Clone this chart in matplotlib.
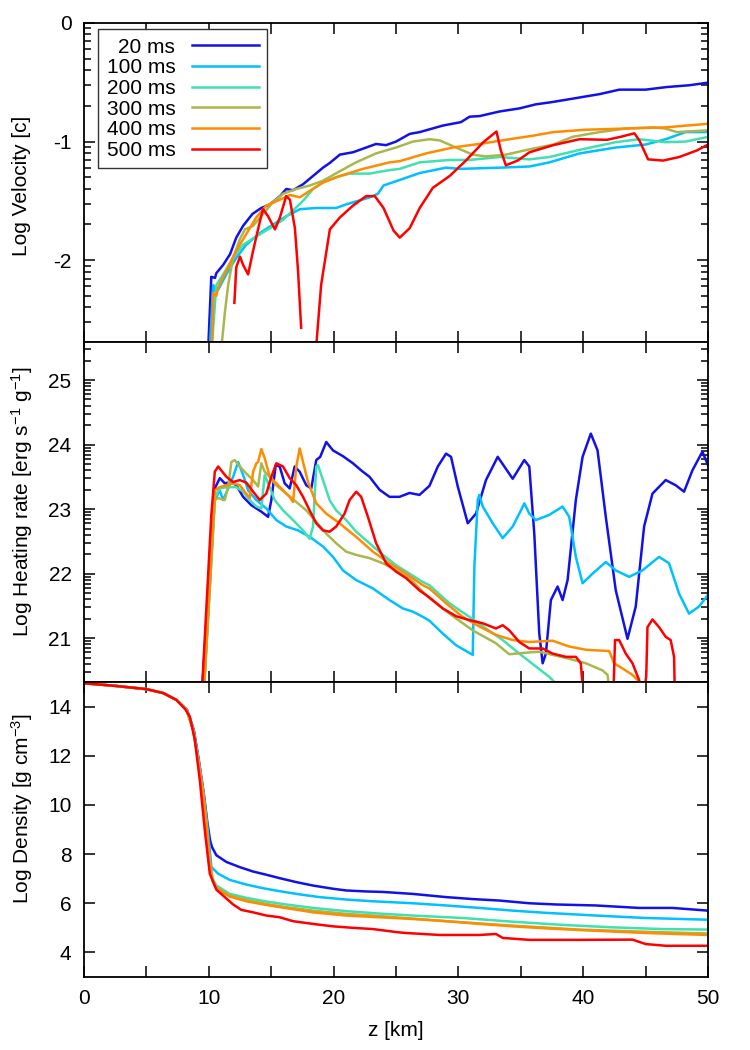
#!/usr/bin/env python3
# -*- coding: utf-8 -*-
"""
Velocity, heating rate and density profiles along z at six times.
"""

import matplotlib
matplotlib.use('Agg')
import matplotlib.pyplot as plt
import matplotlib.ticker as ticker
import numpy as np

plt.rcParams['font.family'] = ['Liberation Sans', 'DejaVu Sans']
plt.rcParams['mathtext.fontset'] = 'custom'
plt.rcParams['mathtext.rm'] = 'Liberation Sans'
plt.rcParams['mathtext.it'] = 'Liberation Sans'

labels = ['20 ms', '100 ms', '200 ms', '300 ms', '400 ms', '500 ms']
colors = ['#1212e8', '#00c0ff', '#40e0b0', '#a8b84c', '#ff8c00', '#ff0000']

# (z [km], log velocity [c])
vel_20 = [(9.93, -2.8), (10.2, -2.14), (10.5, -2.15), (10.6, -2.11), (11.15, -2.04),
          (11.7, -1.95), (12.2, -1.81), (12.75, -1.71), (13.5, -1.61), (14.2, -1.56),
          (14.9, -1.53), (15.7, -1.46), (16.2, -1.40), (16.75, -1.41), (17.55, -1.36),
          (18.35, -1.29), (19.15, -1.22), (19.7, -1.18), (20.5, -1.11), (21.55, -1.09),
          (22.35, -1.06), (23.4, -1.02), (24.2, -1.03), (25.0, -1.00), (26.1, -0.935),
          (26.9, -0.92), (28.75, -0.865), (30.2, -0.836), (30.9, -0.79), (31.7, -0.785),
          (33.3, -0.746), (34.9, -0.72), (36.2, -0.686), (37.5, -0.667), (39.15, -0.638),
          (41.3, -0.60), (42.9, -0.562), (45.0, -0.562), (46.7, -0.54), (48.5, -0.525),
          (50.0, -0.503)]
vel_100 = [(10.05, -2.8), (10.35, -2.21), (10.5, -2.26), (10.75, -2.25), (11.4, -2.12),
           (12.2, -1.98), (13.0, -1.87), (14.1, -1.77), (15.15, -1.70), (16.2, -1.63),
           (17.3, -1.57), (18.6, -1.56), (20.2, -1.56), (21.0, -1.53), (22.9, -1.47),
           (23.55, -1.44), (24.0, -1.37), (25.4, -1.32), (26.9, -1.265), (29.0, -1.22),
           (30.1, -1.23), (33.3, -1.22), (35.7, -1.21), (37.3, -1.175), (39.7, -1.10),
           (42.6, -1.05), (45.0, -1.025), (46.6, -0.98), (48.2, -0.92), (50.0, -0.92)]
vel_200 = [(10.2, -2.8), (10.6, -2.21), (11.15, -2.12), (11.95, -1.98), (12.75, -1.87),
           (13.8, -1.80), (14.9, -1.73), (15.95, -1.66), (16.75, -1.58), (17.55, -1.50),
           (18.35, -1.40), (19.15, -1.345), (20.2, -1.30), (21.3, -1.27), (22.9, -1.27),
           (24.5, -1.24), (25.3, -1.23), (26.9, -1.175), (29.3, -1.155), (30.9, -1.155),
           (33.3, -1.13), (35.7, -1.15), (37.3, -1.13), (39.7, -1.07), (42.6, -1.005),
           (44.5, -0.98), (46.6, -1.005), (48.2, -1.00), (50.0, -0.96)]
vel_300 = [(10.95, -2.8), (11.3, -2.43), (11.55, -2.21), (11.95, -1.98), (12.5, -1.82),
           (12.9, -1.74), (13.55, -1.71), (14.35, -1.61), (15.15, -1.51), (15.95, -1.44),
           (17.0, -1.40), (18.1, -1.37), (19.15, -1.33), (20.5, -1.25), (21.8, -1.175),
           (23.4, -1.10), (25.0, -1.05), (26.35, -1.00), (27.7, -0.98), (28.5, -0.99),
           (29.8, -1.05), (31.15, -1.11), (32.2, -1.125), (33.8, -1.11), (35.5, -1.07),
           (37.6, -1.025), (39.15, -0.96), (41.3, -0.92), (43.4, -0.89), (45.6, -0.88),
           (46.6, -0.89), (47.5, -0.92), (50.0, -0.905)]
vel_400 = [(10.2, -2.8), (10.3, -2.6), (10.35, -2.28), (10.6, -2.30), (10.75, -2.23),
           (11.4, -2.09), (12.2, -1.92), (13.0, -1.78), (13.8, -1.64), (14.6, -1.54),
           (15.7, -1.49), (16.5, -1.45), (17.3, -1.47), (18.1, -1.415), (19.15, -1.345),
           (20.5, -1.29), (22.35, -1.23), (24.5, -1.175), (25.3, -1.165), (27.4, -1.10),
           (29.55, -1.05), (32.0, -1.015), (34.1, -0.98), (36.0, -0.95), (37.6, -0.92),
           (40.2, -0.90), (43.4, -0.89), (46.6, -0.88), (50.0, -0.85)]
vel_500 = [(12.05, -2.36), (12.2, -2.06), (12.5, -1.97), (12.75, -2.04), (13.15, -2.12),
           (13.55, -1.92), (14.1, -1.67), (14.35, -1.57), (14.75, -1.63), (15.3, -1.74),
           (15.7, -1.64), (16.2, -1.46), (16.5, -1.49), (16.9, -1.73), (17.15, -2.09),
           (17.4, -2.57), (np.nan, np.nan),
           (18.55, -2.8), (19.0, -2.21), (19.7, -1.74), (20.5, -1.64), (21.55, -1.54),
           (22.6, -1.46), (23.3, -1.46), (24.0, -1.56), (24.8, -1.75), (25.3, -1.81),
           (26.1, -1.73), (26.9, -1.56), (27.95, -1.39), (29.3, -1.29), (30.6, -1.16),
           (32.0, -1.005), (33.05, -0.915), (33.4, -1.075), (33.8, -1.20), (34.75, -1.16),
           (35.7, -1.09), (37.6, -1.03), (39.7, -0.98), (41.9, -0.985), (43.0, -0.96),
           (44.1, -0.93), (44.5, -0.99), (45.2, -1.15), (46.4, -1.16), (47.7, -1.13),
           (49.1, -1.075), (50.0, -1.025)]

# (z [km], log heating rate [erg/s/g])
heat_20 = [(9.4, 20.0), (10.48, 23.32), (10.88, 23.48), (11.28, 23.40), (11.81, 23.42),
           (12.21, 23.37), (12.75, 23.19), (13.41, 23.06), (14.21, 22.96), (14.75, 22.88),
           (15.01, 23.14), (15.36, 23.68), (15.68, 23.66), (16.08, 23.40), (16.48, 23.32),
           (16.88, 23.66), (17.28, 23.58), (17.81, 23.37), (18.21, 23.32), (18.61, 23.76),
           (18.93, 23.81), (19.41, 24.04), (19.95, 23.91), (20.75, 23.82), (21.55, 23.71),
           (22.21, 23.60), (22.88, 23.50), (23.68, 23.30), (24.48, 23.19), (25.28, 23.19),
           (26.08, 23.25), (26.88, 23.22), (27.68, 23.36), (28.35, 23.66), (29.01, 23.86),
           (29.41, 23.81), (29.95, 23.35), (30.75, 22.78), (31.41, 22.93), (32.21, 23.45),
           (33.15, 23.81), (33.68, 23.66), (34.35, 23.47), (35.28, 23.76), (35.68, 23.66),
           (36.08, 22.62), (36.48, 21.07), (36.75, 20.61), (37.01, 20.76), (37.41, 21.59),
           (37.95, 21.80), (38.35, 21.59), (38.75, 21.90), (39.41, 23.14), (39.95, 23.81),
           (40.61, 24.17), (41.15, 23.91), (41.81, 22.88), (42.61, 21.74), (43.55, 20.99),
           (44.21, 21.49), (44.88, 22.73), (45.55, 23.24), (46.61, 23.45), (47.41, 23.37),
           (48.08, 23.27), (48.75, 23.60), (49.55, 23.89), (50.0, 23.68)]
heat_100 = [(9.55, 20.0), (10.48, 23.14), (10.88, 23.29), (11.15, 23.14), (11.55, 23.32),
            (11.95, 23.50), (12.35, 23.73), (12.75, 23.53), (13.15, 23.29), (13.81, 23.14),
            (14.61, 23.01), (15.41, 22.83), (16.21, 22.73), (17.15, 22.67), (18.08, 22.57),
            (19.15, 22.42), (19.95, 22.26), (20.75, 22.05), (21.81, 21.90), (23.15, 21.77),
            (24.48, 21.59), (25.55, 21.46), (26.35, 21.41), (27.15, 21.33), (27.68, 21.27),
            (28.75, 21.07), (29.81, 20.89), (31.15, 20.74), (31.28, 22.11), (31.55, 23.14),
            (31.68, 23.22), (31.95, 23.04), (32.75, 22.78), (33.55, 22.55), (34.35, 22.73),
            (35.01, 22.98), (35.28, 23.09), (35.68, 22.93), (36.21, 22.83), (37.28, 22.91),
            (38.35, 23.04), (38.88, 22.88), (39.41, 22.26), (39.95, 21.85), (40.75, 22.00),
            (41.81, 22.18), (42.61, 22.05), (43.68, 21.95), (44.75, 22.05), (46.08, 22.26),
            (46.88, 22.16), (47.68, 21.69), (48.48, 21.38), (49.28, 21.49), (50.0, 21.67)]
heat_200 = [(9.55, 20.0), (10.48, 23.19), (10.88, 23.32), (11.41, 23.34), (12.21, 23.34),
            (12.75, 23.27), (13.28, 23.14), (13.81, 23.04), (14.21, 23.01), (14.48, 23.53),
            (14.75, 23.40), (15.28, 23.14), (15.95, 22.98), (16.75, 22.83), (17.55, 22.67),
            (18.08, 22.54), (18.35, 22.73), (18.61, 23.66), (18.75, 23.68), (19.15, 23.45),
            (19.68, 23.14), (20.21, 22.98), (21.01, 22.83), (21.81, 22.65), (22.88, 22.47),
            (23.95, 22.29), (25.01, 22.13), (26.08, 22.00), (27.15, 21.87), (27.68, 21.82),
            (29.28, 21.54), (30.88, 21.33), (32.21, 21.15), (33.55, 20.97), (34.88, 20.76),
            (36.21, 20.56), (37.28, 20.40), (38.3, 20.2)]
heat_300 = [(9.55, 20.0), (10.48, 23.14), (10.75, 23.17), (11.28, 23.14), (11.55, 23.35),
            (11.81, 23.73), (12.08, 23.76), (12.48, 23.66), (13.01, 23.55), (13.55, 23.45),
            (13.95, 23.35), (14.21, 23.71), (14.48, 23.58), (14.88, 23.50), (15.41, 23.37),
            (16.21, 23.24), (17.01, 23.11), (17.81, 22.98), (18.61, 22.80), (19.41, 22.62),
            (20.21, 22.47), (21.01, 22.34), (21.81, 22.29), (22.88, 22.24), (23.95, 22.16),
            (25.01, 22.05), (26.08, 21.93), (27.15, 21.72), (27.68, 21.62), (29.28, 21.38),
            (31.15, 21.12), (33.01, 20.92), (34.08, 20.75), (35.15, 20.77), (36.48, 20.79),
            (37.55, 20.74), (38.88, 20.68), (40.21, 20.61), (41.55, 20.50), (41.95, 20.43),
            (42.1, 20.2)]
heat_400 = [(9.55, 20.0), (10.48, 23.29), (10.88, 23.34), (11.41, 23.37), (11.95, 23.40),
            (12.48, 23.37), (12.88, 23.27), (13.28, 23.17), (13.55, 23.58), (13.81, 23.71),
            (13.95, 23.73), (14.21, 23.93), (14.48, 23.79), (14.88, 23.50), (15.41, 23.40),
            (15.95, 23.29), (16.48, 23.19), (16.75, 23.11), (17.01, 23.66), (17.28, 23.94),
            (17.55, 23.73), (17.95, 23.42), (18.61, 23.09), (19.41, 22.93), (20.48, 22.78),
            (21.81, 22.57), (23.15, 22.34), (24.48, 22.16), (25.81, 22.00), (27.15, 21.82),
            (27.68, 21.77), (29.01, 21.54), (30.35, 21.33), (31.68, 21.18), (33.01, 21.05),
            (34.35, 20.97), (35.68, 20.94), (37.55, 20.96), (38.88, 20.87), (40.21, 20.82),
            (42.08, 20.80), (42.48, 20.61), (43.15, 20.53), (43.95, 20.43), (44.61, 20.30),
            (44.8, 20.2)]
heat_500 = [(9.4, 20.0), (10.2, 22.9), (10.48, 23.58), (10.75, 23.66), (11.41, 23.50),
            (11.95, 23.42), (12.48, 23.45), (13.01, 23.41), (13.55, 23.27), (14.08, 23.14),
            (14.61, 23.24), (15.01, 23.50), (15.41, 23.71), (15.95, 23.66), (16.48, 23.48),
            (17.01, 23.37), (17.55, 23.19), (18.08, 22.98), (18.61, 22.78), (19.15, 22.67),
            (19.68, 22.65), (20.21, 22.73), (20.88, 22.93), (21.28, 23.14), (21.81, 23.27),
            (22.21, 23.19), (22.75, 22.88), (23.41, 22.47), (24.21, 22.16), (25.01, 22.03),
            (25.81, 21.93), (26.88, 21.74), (27.68, 21.63), (28.75, 21.46), (29.81, 21.34),
            (30.88, 21.28), (31.95, 21.23), (33.01, 21.15), (33.55, 21.20), (34.08, 21.12),
            (34.88, 20.94), (35.68, 20.84), (36.75, 20.84), (37.55, 20.76), (38.61, 20.71),
            (39.41, 20.71), (39.81, 20.61), (40.05, 20.0), (42.4, 20.0), (42.55, 20.97),
            (42.88, 20.97), (43.41, 20.76), (43.95, 20.61), (44.48, 20.35), (44.8, 20.1),
            (45.05, 20.4), (45.15, 21.17), (45.55, 21.29), (46.08, 21.17), (46.61, 21.02),
            (47.01, 20.97), (47.28, 20.71), (47.36, 20.0)]

# (z [km], log density [g/cm^3])
dens_20 = [(0.0, 14.95), (2.35, 14.85), (5.0, 14.71), (6.35, 14.55), (7.41, 14.27),
           (8.25, 13.87), (8.8, 13.05), (9.2, 11.82), (9.6, 10.46), (9.86, 9.38),
           (10.1, 8.56), (10.25, 8.29), (10.61, 7.95), (11.41, 7.68), (12.48, 7.47),
           (13.55, 7.29), (14.61, 7.16), (15.68, 7.02), (17.01, 6.86), (18.35, 6.72),
           (19.95, 6.59), (21.01, 6.52), (22.61, 6.48), (23.95, 6.46), (26.35, 6.38),
           (29.01, 6.25), (31.15, 6.17), (33.28, 6.11), (35.68, 6.00), (37.81, 5.95),
           (41.01, 5.91), (44.48, 5.81), (47.15, 5.81), (50.0, 5.70)]
dens_100 = [(0.0, 14.95), (2.35, 14.85), (5.0, 14.71), (6.35, 14.55), (7.41, 14.27),
            (8.23, 13.87), (8.78, 13.05), (9.18, 11.82), (9.58, 10.46), (9.84, 9.38),
            (10.05, 8.3), (10.21, 7.47), (10.75, 7.20), (11.68, 6.95), (13.01, 6.76),
            (14.35, 6.61), (15.68, 6.49), (17.28, 6.36), (18.88, 6.25), (21.01, 6.15),
            (23.15, 6.08), (26.35, 6.00), (29.01, 5.91), (31.68, 5.81), (34.35, 5.70),
            (37.01, 5.61), (41.01, 5.50), (45.01, 5.40), (50.0, 5.33)]
dens_200 = [(0.0, 14.95), (2.35, 14.85), (5.0, 14.71), (6.35, 14.55), (7.41, 14.27),
            (8.21, 13.87), (8.75, 13.05), (9.15, 11.82), (9.55, 10.46), (9.81, 9.2),
            (10.05, 7.8), (10.3, 7.0), (10.61, 6.72), (11.68, 6.38), (13.01, 6.22),
            (14.61, 6.07), (16.21, 5.95), (18.35, 5.81), (21.01, 5.68), (23.68, 5.58),
            (26.35, 5.50), (30.35, 5.40), (34.35, 5.25), (38.35, 5.12), (42.35, 5.02),
            (46.35, 4.95), (50.0, 4.93)]
dens_300 = [(0.0, 14.95), (2.35, 14.85), (5.0, 14.71), (6.35, 14.55), (7.41, 14.27),
            (8.21, 13.87), (8.75, 13.05), (9.15, 11.82), (9.55, 10.46), (9.81, 9.2),
            (10.05, 7.8), (10.3, 6.95), (10.61, 6.65), (11.68, 6.31), (13.01, 6.14),
            (14.61, 5.97), (16.21, 5.84), (18.35, 5.70), (21.01, 5.57), (23.68, 5.48),
            (29.01, 5.27), (34.35, 5.09), (39.68, 4.93), (45.01, 4.84), (50.0, 4.77)]
dens_400 = [(0.0, 14.95), (2.35, 14.85), (5.0, 14.71), (6.35, 14.55), (7.41, 14.27),
            (8.21, 13.87), (8.75, 13.05), (9.15, 11.82), (9.55, 10.46), (9.81, 9.2),
            (10.05, 7.8), (10.3, 6.9), (10.61, 6.59), (11.68, 6.27), (13.01, 6.08),
            (14.61, 5.93), (16.21, 5.80), (18.35, 5.63), (21.01, 5.50), (23.68, 5.43),
            (26.35, 5.36), (29.01, 5.27), (31.68, 5.16), (34.35, 5.06), (37.01, 4.98),
            (39.68, 4.91), (42.35, 4.85), (45.01, 4.79), (50.0, 4.71)]
dens_500 = [(0.0, 14.95), (2.35, 14.85), (5.0, 14.71), (6.35, 14.55), (7.41, 14.27),
            (8.1, 13.9), (8.48, 13.59), (8.88, 12.64), (9.28, 11.01), (9.68, 8.97),
            (10.08, 7.20), (10.61, 6.55), (11.28, 6.25), (11.95, 5.95), (12.61, 5.73),
            (13.55, 5.63), (14.61, 5.50), (15.68, 5.43), (16.75, 5.27), (18.35, 5.16),
            (19.95, 5.06), (21.55, 5.00), (23.15, 4.95), (25.15, 4.82), (25.81, 4.79),
            (28.48, 4.71), (31.68, 4.71), (33.01, 4.75), (33.55, 4.59), (35.68, 4.51),
            (39.68, 4.51), (43.95, 4.52), (45.01, 4.34), (46.61, 4.27), (50.0, 4.27)]

velocity = [vel_20, vel_100, vel_200, vel_300, vel_400, vel_500]
heating = [heat_20, heat_100, heat_200, heat_300, heat_400, heat_500]
density = [dens_20, dens_100, dens_200, dens_300, dens_400, dens_500]


def log_minor(lo, hi):
    """gnuplot-like minor ticks at k + log10(m) inside each unit"""
    ticks = []
    for k in range(int(np.floor(lo)) - 1, int(np.ceil(hi)) + 1):
        for m in range(2, 10):
            t = k + np.log10(m)
            if lo < t < hi:
                ticks.append(t)
    return ticks


def style_axes(axes, ylim, yticks, minor):
    axes.set_xlim(0, 50)
    axes.set_ylim(*ylim)
    axes.set_xticks(np.arange(0, 51, 10))
    axes.set_xticks(np.arange(5, 50, 10), minor=True)
    axes.set_yticks(yticks)
    if minor:
        axes.yaxis.set_minor_locator(ticker.FixedLocator(log_minor(*ylim)))
    else:
        axes.yaxis.set_minor_locator(ticker.NullLocator())
    axes.tick_params(which='both', direction='in', top=True, right=True,
                     width=1.1, labelsize=15, pad=9)
    axes.tick_params(which='major', length=8)
    axes.tick_params(axis='y', which='minor', length=5)
    axes.tick_params(axis='x', which='minor', length=8)
    for spine in axes.spines.values():
        spine.set_linewidth(1.3)


figure = plt.figure(figsize=(7.5, 10.5), dpi=100)
left, width = 84 / 750, 624 / 750
ax_v = figure.add_axes([left, 1 - 342 / 1050, width, 319 / 1050])
ax_h = figure.add_axes([left, 1 - 682 / 1050, width, 340 / 1050])
ax_d = figure.add_axes([left, 1 - 977 / 1050, width, 295 / 1050])

for axes, series in [(ax_v, velocity), (ax_h, heating), (ax_d, density)]:
    for label, color, data in zip(labels, colors, series):
        arr = np.array(data, dtype=float)
        axes.plot(arr[:, 0], arr[:, 1], color=color, lw=1.8, label=label)

style_axes(ax_v, (-2.69, 0), [-2, -1, 0], True)
style_axes(ax_h, (20.32, 25.59), [21, 22, 23, 24, 25], True)
style_axes(ax_d, (3, 15), [4, 6, 8, 10, 12, 14], False)
ax_v.set_yticklabels(['-2', '-1', '0'])
ax_v.tick_params(labelbottom=False)
ax_h.tick_params(labelbottom=False)

ax_v.set_ylabel('Log Velocity [c]', fontsize=15)
ax_h.set_ylabel(r'Log Heating rate [erg s$^{-1}$ g$^{-1}$]', fontsize=15)
ax_d.set_ylabel(r'Log Density [g cm$^{-3}$]', fontsize=15)
for axes, ypos in [(ax_v, 0.49), (ax_h, 0.53), (ax_d, 0.57)]:
    axes.yaxis.label.set_va('center')
    axes.yaxis.set_label_coords(-0.1, ypos)
ax_d.set_xlabel('z [km]', fontsize=15, labelpad=9)

legend = ax_v.legend(loc='upper left', bbox_to_anchor=(0.0229, 0.98),
                     borderaxespad=0, markerfirst=False, fancybox=False,
                     framealpha=1, edgecolor='#333333', fontsize=15,
                     handlelength=3.2, handletextpad=0.8, labelspacing=0.08,
                     borderpad=0.4)
legend.get_frame().set_linewidth(1.0)

figure.savefig('out.png', dpi=100)
plt.close()
